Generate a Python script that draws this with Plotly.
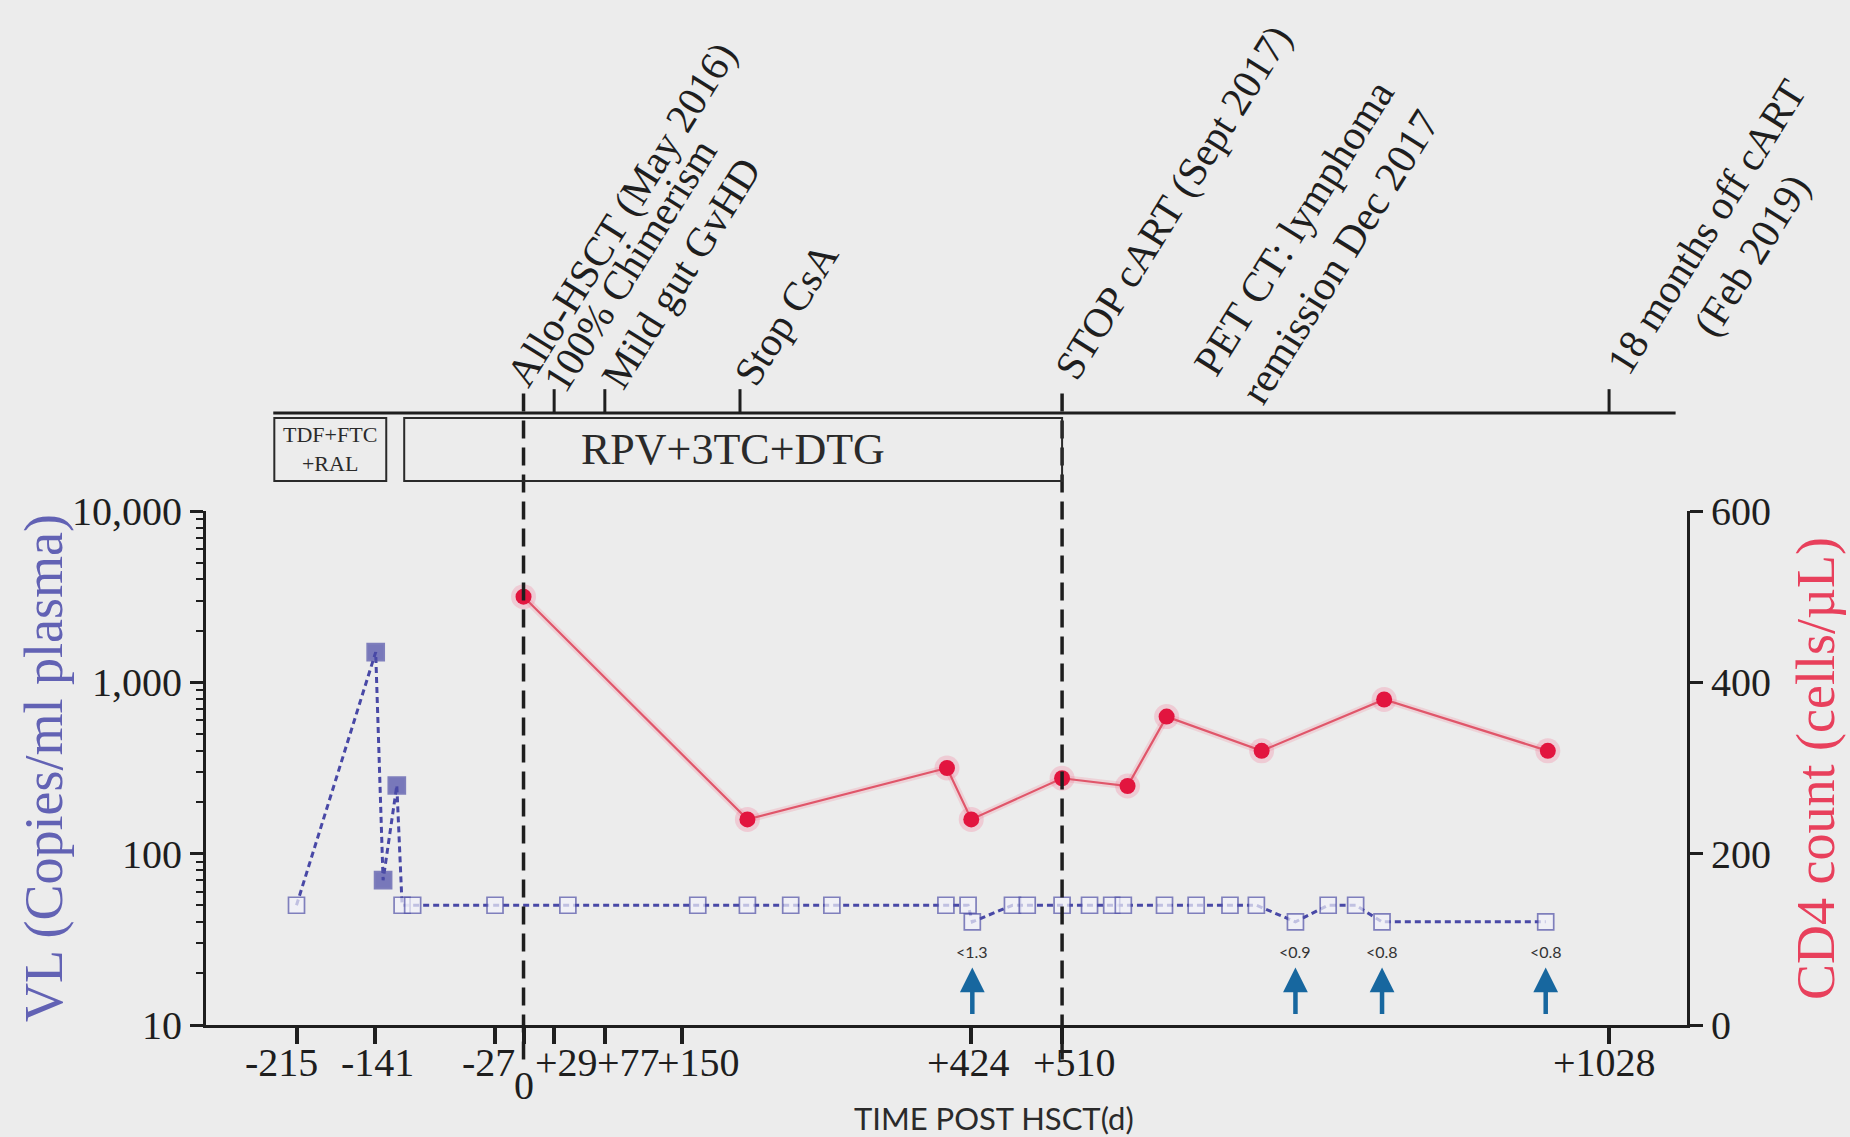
import plotly.graph_objects as go

# ---- data -------------------------------------------------------------
# HIV-1 viral load (copies/ml plasma) by day relative to HSCT
vl_days = [-215, -140, -133, -120, -115, -105, -27, 42, 165, 212, 253, 292,
           400, 421, 425, 463, 477, 510, 536, 557, 568, 607, 637, 669, 694,
           731, 762, 788, 813, 968]
vl_values = [50, 1500, 70, 250, 50, 50, 50, 50, 50, 50, 50, 50,
             50, 50, 40, 50, 50, 50, 50, 50, 50, 50, 50, 50, 50,
             40, 50, 50, 40, 40]
vl_detected = [False, True, True, True, False, False, False, False, False,
               False, False, False, False, False, False, False, False, False,
               False, False, False, False, False, False, False, False, False,
               False, False, False]

# CD4 count (cells/uL)
cd4_days = [0, 212, 401, 424, 510, 572, 609, 699, 815, 970]
cd4_values = [500, 240, 300, 240, 288, 279, 360, 320, 380, 320]

# reservoir measurements marked with arrows
reservoir_days = [425, 731, 813, 968]
reservoir_labels = ["<1.3", "<0.9", "<0.8", "<0.8"]

# x-axis ticks
x_ticks = [-215, -141, -27, 0, 29, 77, 150, 424, 510, 1028]
x_tick_labels = ["-215", "-141", "-27", "0", "+29", "+77", "+150", "+424", "+510", "+1028"]

# left / right axis ticks
vl_ticks = [10, 100, 1000, 10000]
vl_tick_labels = ["10", "100", "1,000", "10,000"]
cd4_ticks = [0, 200, 400, 600]

# timeline events
event_days = [0, 29, 77, 205, 510, 1028]
event_labels = ["Allo-HSCT (May 2016)", "100% Chimerism", "Mild gut GvHD",
                "Stop CsA", "STOP cART (Sept 2017)",
                "18 months off cART<br>(Feb 2019)"]
pet_label = "PET CT: lymphoma<br>remission Dec 2017"
pet_day = 580

# treatment regimens (label, start day, end day)
regimen_labels = ["TDF+FTC<br>+RAL", "RPV+3TC+DTG"]
regimen_start = [-236, -113]
regimen_end = [-130, 510]

# ---- styling ----------------------------------------------------------
SERIF = "Liberation Serif"
SANS = "Lato"
BG = "#ececec"
INK = "#1e1e1e"
BLUE = "#4848a6"
RED = "#e2153f"
ARROW = "#17679f"

X_RANGE = [-300.7, 1101.8]

fig = go.Figure()

# viral load
fig.add_trace(go.Scatter(
    x=vl_days, y=vl_values, mode="lines+markers", yaxis="y",
    line=dict(color=BLUE, width=3, dash="6px,4px"),
    marker=dict(
        symbol="square",
        size=[17 if d else 16 for d in vl_detected],
        color=[BLUE if d else "#f3f3fb" for d in vl_detected],
        line=dict(color="#5252a8", width=1.7),
    ),
    showlegend=False, hoverinfo="x+y",
))

# CD4 glow + line
fig.add_trace(go.Scatter(
    x=cd4_days, y=cd4_values, mode="lines+markers", yaxis="y2",
    line=dict(color="rgba(240,120,140,0.22)", width=7),
    marker=dict(size=25, color="rgba(245,120,150,0.28)"),
    showlegend=False, hoverinfo="skip",
))
fig.add_trace(go.Scatter(
    x=cd4_days, y=cd4_values, mode="lines+markers", yaxis="y2",
    line=dict(color="#e0566a", width=2.2),
    marker=dict(size=16, color=RED),
    showlegend=False, hoverinfo="x+y",
))

shapes = []
annotations = []

# dashed reference lines at HSCT and cART stop
for d in (0, 510):
    shapes.append(dict(type="line", xref="x", yref="paper", x0=d, x1=d,
                       y0=-0.067, y1=1.232, layer="above",
                       line=dict(color=INK, width=3.5, dash="18px,9px")))

# timeline line and event ticks
shapes.append(dict(type="line", xref="x", yref="paper", x0=-237, x1=1091,
                   y0=1.1905, y1=1.1905, line=dict(color=INK, width=3)))
for d in event_days:
    if d in (0, 510):
        continue
    shapes.append(dict(type="line", xref="x", yref="paper", x0=d, x1=d,
                       y0=1.1905, y1=1.237, line=dict(color=INK, width=3)))

# regimen boxes
for lab, s, e in zip(regimen_labels, regimen_start, regimen_end):
    shapes.append(dict(type="rect", xref="x", yref="paper", x0=s, x1=e,
                       y0=1.0583, y1=1.1810,
                       line=dict(color="#2a2a2a", width=2)))
    small = "<br>" in lab
    annotations.append(dict(
        x=(s + e) / 2, y=1.1197, xref="x", yref="paper", text=lab,
        showarrow=False, xanchor="center", yanchor="middle",
        font=dict(family=SERIF, size=22 if small else 44, color="#2a2a2a"),
    ))

# event labels above timeline (center offsets in px)
event_shift = [98, 76, 76, 46, 111, 119]
event_y = [1.577, 1.478, 1.463, 1.383, 1.601, 1.525]
for d, lab, xs, yp in zip(event_days, event_labels, event_shift, event_y):
    annotations.append(dict(
        x=d, y=yp, xref="x", yref="paper", xshift=xs, text=lab,
        showarrow=False, textangle=-58, xanchor="center", yanchor="middle",
        align="center",
        font=dict(family=SERIF, size=41, color=INK),
    ))
annotations.append(dict(
    x=pet_day, y=1.523, xref="x", yref="paper", xshift=181, text=pet_label,
    showarrow=False, textangle=-58, xanchor="center", yanchor="middle",
    align="center", font=dict(family=SERIF, size=42, color=INK),
))

# x tick labels (hand-spaced where crowded)
label_shift = [-15, 3, -7, 0, 12, 24, 17, -3, 12, -5]
for d, lab, xs in zip(x_ticks, x_tick_labels, label_shift):
    annotations.append(dict(
        x=d, y=-0.117 if d == 0 else -0.073, xref="x", yref="paper",
        xshift=xs, text=lab, showarrow=False,
        xanchor="center", yanchor="middle",
        font=dict(family=SERIF, size=40, color=INK),
    ))

# reservoir arrows and values
for d, lab in zip(reservoir_days, reservoir_labels):
    annotations.append(dict(
        x=d, y=0.112, xref="x", yref="paper", ax=0, ay=48, text="",
        showarrow=True, arrowhead=2, arrowsize=1.1, arrowwidth=4.5,
        arrowcolor=ARROW,
    ))
    annotations.append(dict(
        x=d, y=0.143, xref="x", yref="paper", text=lab, showarrow=False,
        xanchor="center", yanchor="middle",
        font=dict(family=SANS, size=16, color="#333333"),
    ))

# axis titles
annotations.append(dict(
    x=-0.1094, y=0.5, xref="paper", yref="paper", text="VL (Copies/ml plasma)",
    showarrow=False, textangle=-90, xanchor="center", yanchor="middle",
    font=dict(family=SERIF, size=54, color="#6262b4"),
))
annotations.append(dict(
    x=1.0871, y=0.5, xref="paper", yref="paper", text="CD4 count (cells/µL)",
    showarrow=False, textangle=-90, xanchor="center", yanchor="middle",
    font=dict(family=SERIF, size=54, color="#e8405c"),
))
annotations.append(dict(
    x=0.532, y=-0.18, xref="paper", yref="paper", text="TIME POST HSCT(d)",
    showarrow=False, xanchor="center", yanchor="middle",
    font=dict(family=SANS, size=31, color="#2a2a2a"),
))

minor_vals = [m * 10 ** k for k in (1, 2, 3) for m in range(2, 10)]

fig.update_layout(
    width=1850, height=1137,
    margin=dict(l=206, r=163, t=511, b=112),
    paper_bgcolor=BG, plot_bgcolor=BG,
    xaxis=dict(
        range=X_RANGE, showgrid=False, zeroline=False,
        showline=True, linecolor=INK, linewidth=3,
        tickmode="array", tickvals=x_ticks, showticklabels=False,
        ticks="outside", ticklen=16, tickwidth=3.5, tickcolor=INK,
    ),
    yaxis=dict(
        type="log", range=[1, 4], showgrid=False, zeroline=False,
        showline=True, linecolor=INK, linewidth=3,
        tickmode="array", tickvals=vl_ticks, ticktext=vl_tick_labels,
        ticks="outside", ticklen=13, tickwidth=3, tickcolor=INK,
        tickfont=dict(family=SERIF, size=40, color=INK),
        minor=dict(tickmode="array", tickvals=minor_vals, ticks="outside",
                   ticklen=7, tickwidth=2, tickcolor=INK),
    ),
    yaxis2=dict(
        overlaying="y", side="right", anchor="x", range=[0, 600],
        showgrid=False, zeroline=False,
        showline=True, linecolor=INK, linewidth=3,
        tickmode="array", tickvals=cd4_ticks,
        ticks="outside", ticklen=13, tickwidth=3, tickcolor=INK,
        tickfont=dict(family=SERIF, size=40, color=INK),
    ),
    shapes=shapes,
    annotations=annotations,
    showlegend=False,
)

fig.write_html("out.html")
